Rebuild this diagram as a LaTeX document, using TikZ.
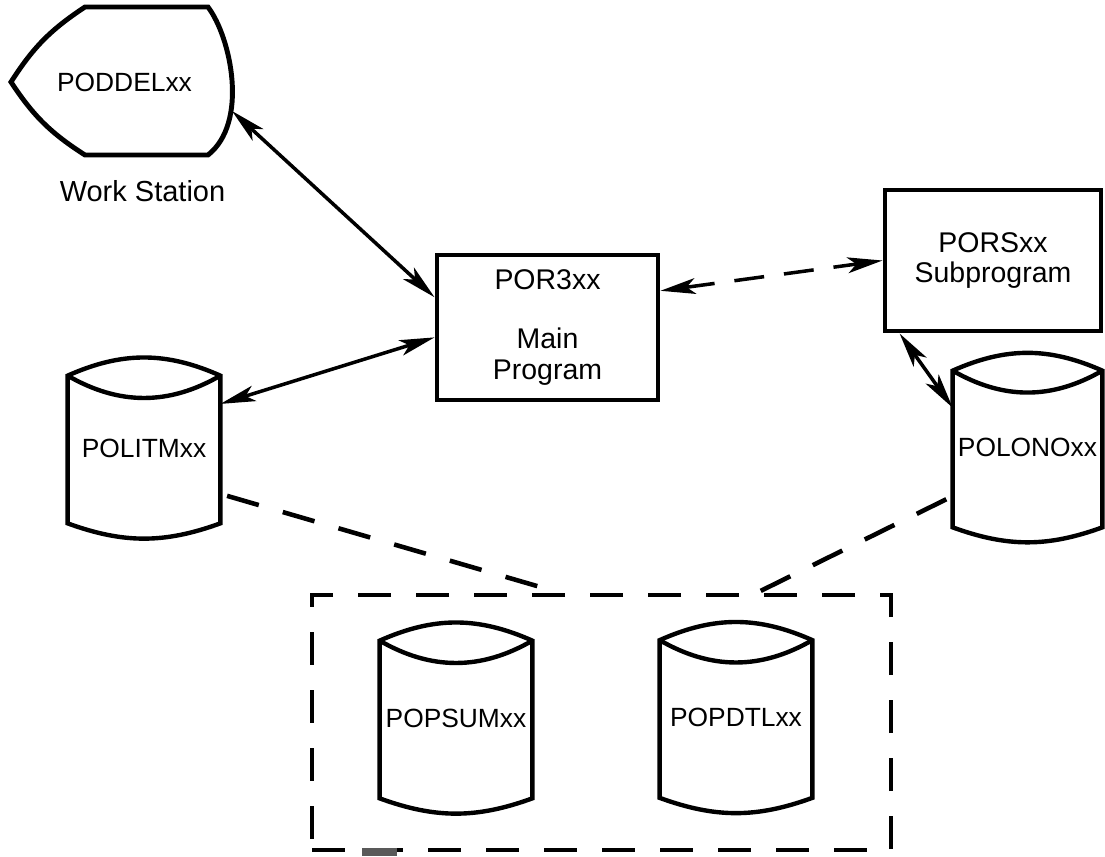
\documentclass[tikz,border=0pt]{standalone}
\usepackage{fontspec}
\setmainfont{Liberation Sans}
\usetikzlibrary{arrows.meta, positioning, calc}

% disk outline drawn round a named (empty-bordered) node
\newcommand{\drawdisk}[1]{%
	\draw[diskline] ([yshift=-0.36cm]#1.north west) to[bend left=24] ([yshift=-0.36cm]#1.north east)
		-- ([yshift=0.3cm]#1.south east) to[bend left=20] ([yshift=0.3cm]#1.south west) -- cycle;
	\draw[diskline] ([yshift=-0.36cm]#1.north west) to[bend right=30] ([yshift=-0.36cm]#1.north east);
}

\begin{document}
\begin{tikzpicture}[
		font=\fontsize{15}{17.6}\selectfont,
		prog/.style={draw, line width=2.8pt, minimum width=4.42cm, minimum height=2.9cm, align=center, font=\fontsize{16.2}{17.6}\selectfont},
		disk/.style={minimum width=3.04cm, minimum height=3.8cm, inner sep=0pt},
		diskline/.style={line width=2.5pt, line join=miter},
		link/.style={<->, line width=2pt},
		dline/.style={line width=2.6pt, dash pattern=on 0.66cm off 0.5cm},
		>={Stealth[length=20pt, width=9pt, inset=5pt]}
	]
		\useasboundingbox (0, 0) rectangle (22.1, -17.14);

		% Work station
		\draw[line width=2.8pt] (0.22, -1.64) to[bend left=12] (1.7, -0.14) -- (4.16, -0.14)
			.. controls (4.62, -0.75) and (4.98, -2.45) .. (4.16, -3.1)
			-- (1.7, -3.1) to[bend left=12] (0.22, -1.64) -- cycle;
		\node (ws) at (2.49, -1.64) {PODDELxx};
		\coordinate (wsport) at (4.64, -2.22);
		\node[font=\fontsize{16.5}{18}\selectfont] (wslabel) at (2.85, -3.82) {Work Station};

		% Programs
		\node[prog] (main) at (10.95, -6.55) {POR3xx\\[16pt]Main\\Program};
		\node[prog, minimum width=4.32cm, minimum height=2.82cm] (sub) at (19.86, -5.21) {PORSxx\\Subprogram};

		% Files
		\node[disk, minimum height=3.6cm] (politm) at (2.88, -8.96) {POLITMxx};
		\node[disk, minimum width=2.98cm, minimum height=3.78cm] (polono) at (20.55, -8.95) {POLONOxx};
		\node[draw, line width=2.6pt, dash pattern=on 0.66cm off 0.5cm, minimum width=11.58cm, minimum height=5.1cm] (store) at (12.03, -14.45) {};
		\node[disk] (popsum) at (9.12, -14.36) {POPSUMxx};
		\node[disk] (popdtl) at (14.72, -14.35) {POPDTLxx};
		\drawdisk{politm}
		\drawdisk{polono}
		\drawdisk{popsum}
		\drawdisk{popdtl}
		\draw[line width=4.5pt, gray!70!black] (7.24, -17.04) -- (7.94, -17.04);

		% Connections
		\draw[link] (wsport) -- (main.165);
		\draw[link] (politm.30) -- (main.185);
		\draw[link, dash pattern=on 0.6cm off 0.4cm] (main.18) -- (sub.west);
		\draw[link] (sub.218) -- (polono.152);
		\draw[dline, shorten <=4pt] (politm.-31) -- ($(store.north)+(-0.83, 0)$);
		\draw[dline, shorten <=4pt] (polono.213) -- ($(store.north)+(3.11, 0)$);
	\end{tikzpicture}
\end{document}
